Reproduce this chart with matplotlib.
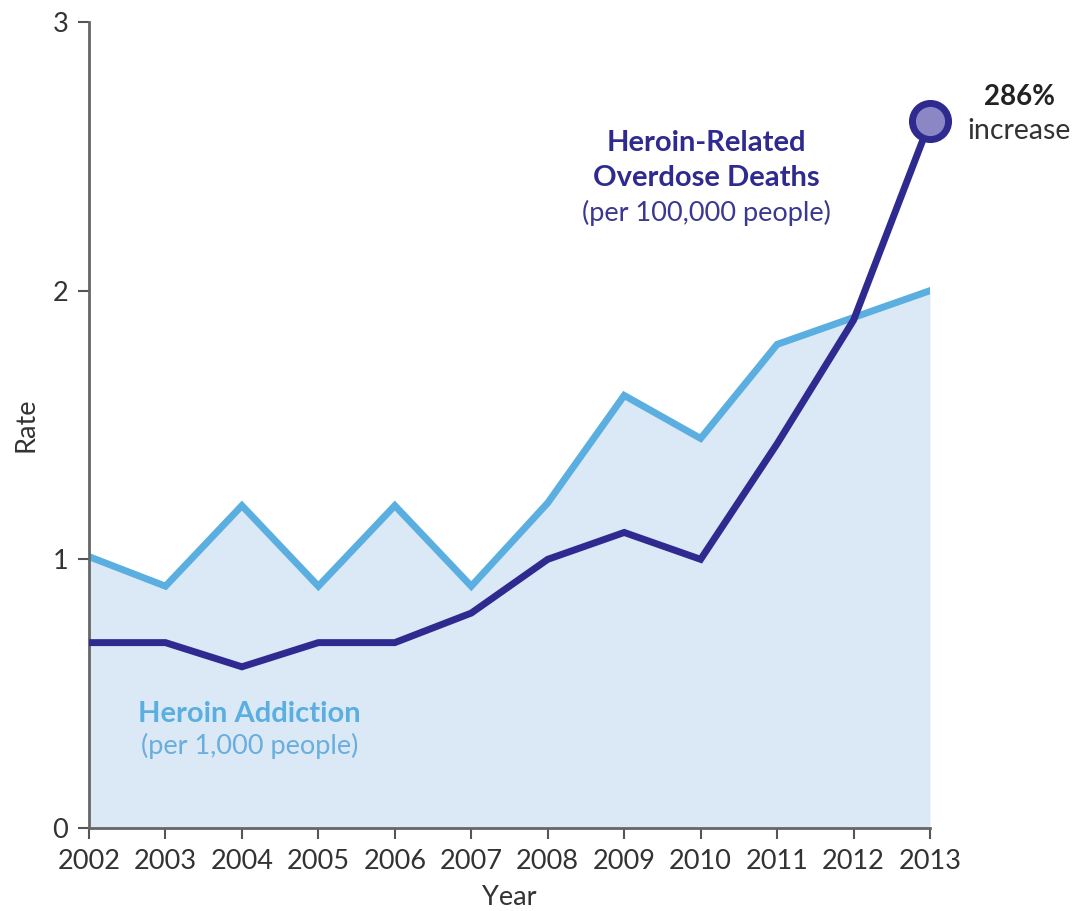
import matplotlib
matplotlib.use("Agg")
import matplotlib.pyplot as plt

years = [2002, 2003, 2004, 2005, 2006, 2007, 2008, 2009, 2010, 2011, 2012, 2013]
addiction = [1.01, 0.90, 1.20, 0.90, 1.20, 0.90, 1.21, 1.61, 1.45, 1.80, 1.90, 2.00]
deaths = [0.69, 0.69, 0.60, 0.69, 0.69, 0.80, 1.00, 1.10, 1.00, 1.43, 1.89, 2.63]
yticks = [0, 1, 2, 3]

plt.rcParams['font.family'] = ['Lato', 'DejaVu Sans']

fig = plt.figure(figsize=(10.76, 9.11), dpi=100)
ax = fig.add_axes([89/1076, 83/911, (930-89)/1076, (828-22)/911])

light = '#5aafe0'
dark = '#2e2a8f'
ax.fill_between(years, 0, addiction, color='#dbe8f6', lw=0, zorder=1)
ax.plot(years, addiction, color=light, lw=5, zorder=2, solid_joinstyle='miter')
ax.plot(years, deaths, color=dark, lw=5, zorder=3, solid_joinstyle='miter')
ax.plot([years[-1]], [deaths[-1]], marker='o', ms=26, mfc='#8a87c4', mec=dark, mew=5, zorder=4, clip_on=False)

ax.set_xlim(2002, 2013)
ax.set_ylim(0, 3)
ax.set_xticks(years)
ax.set_yticks(yticks)
ax.tick_params(direction='out', length=8, width=1.5, color='#555555', labelsize=19.5, labelcolor='#333333', pad=7)
for s in ['top', 'right']:
    ax.spines[s].set_visible(False)
for s in ['left', 'bottom']:
    ax.spines[s].set_color('#666666')
    ax.spines[s].set_linewidth(2)

ax.set_xlabel('Year', fontsize=19.5, color='#333333', labelpad=8)
ax.set_ylabel('Rate', fontsize=19.5, color='#333333', labelpad=10)

ax.text(2010.08, 2.55, 'Heroin-Related', ha='center', va='center', fontsize=21,
        fontweight='bold', color=dark)
ax.text(2010.08, 2.42, 'Overdose Deaths', ha='center', va='center', fontsize=21,
        fontweight='bold', color=dark)
ax.text(2010.08, 2.29, '(per 100,000 people)', ha='center', va='center', fontsize=19.5, color='#3a3890')
ax.text(2004.1, 0.424, 'Heroin Addiction', ha='center', va='center', fontsize=21,
        fontweight='bold', color=light)
ax.text(2004.1, 0.305, '(per 1,000 people)', ha='center', va='center', fontsize=19.5, color='#6aaedb')
ax.text(2014.17, 2.72, '286%', ha='center', va='center', fontsize=20, fontweight='bold', color='#222222', clip_on=False)
ax.text(2014.17, 2.594, 'increase', ha='center', va='center', fontsize=20.5, color='#333333', clip_on=False)

fig.savefig('out.png', dpi=100)
